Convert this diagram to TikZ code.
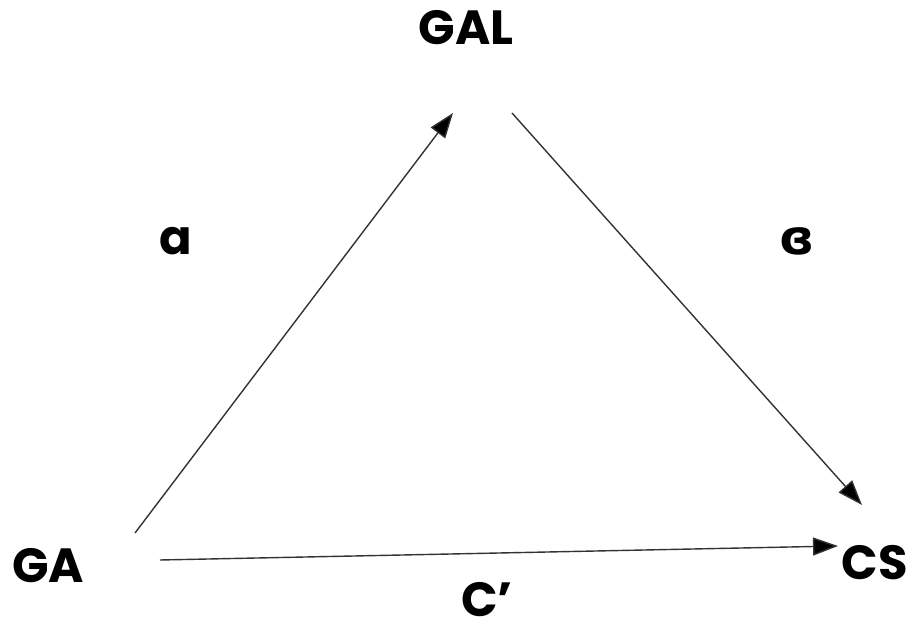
\documentclass[tikz,border=0pt]{standalone}
\usepackage{fontspec}
\setmainfont{Poppins}
\newfontfamily\ipafont{DejaVu Sans}
\usepackage{tikz}
\usetikzlibrary{arrows.meta}

\begin{document}
\begin{tikzpicture}[x=1pt, y=1pt,
    lbl/.style={font=\fontsize{48}{52}\selectfont\bfseries, anchor=base, inner sep=0pt},
    conn/.style={black!80, line width=1.4pt, -{Triangle[length=25pt, width=18pt, fill=black]}}]
  \useasboundingbox (0,0) rectangle (912,626);
  \node[lbl] (gal) at (466,581) {GAL};
  \node[lbl] (ga) at (48,44) {GA};
  \node[lbl] (cs) at (875,46) {CS};
  \node[lbl] (a) at (176,371) {a};
  \node[lbl] (b) at (797,371) {\ipafont ɞ};
  \node[lbl] (c) at (487,10) {C’};
  \draw[conn] ([shift={(87,49)}]ga.base) -- ([shift={(-13,-68)}]gal.base);
  \draw[conn] ([shift={(46,-68)}]gal.base) -- ([shift={(-13,75)}]cs.base);
  \draw[conn] ([shift={(112,22)}]ga.base) -- ([shift={(-37,34)}]cs.base);
\end{tikzpicture}
\end{document}
